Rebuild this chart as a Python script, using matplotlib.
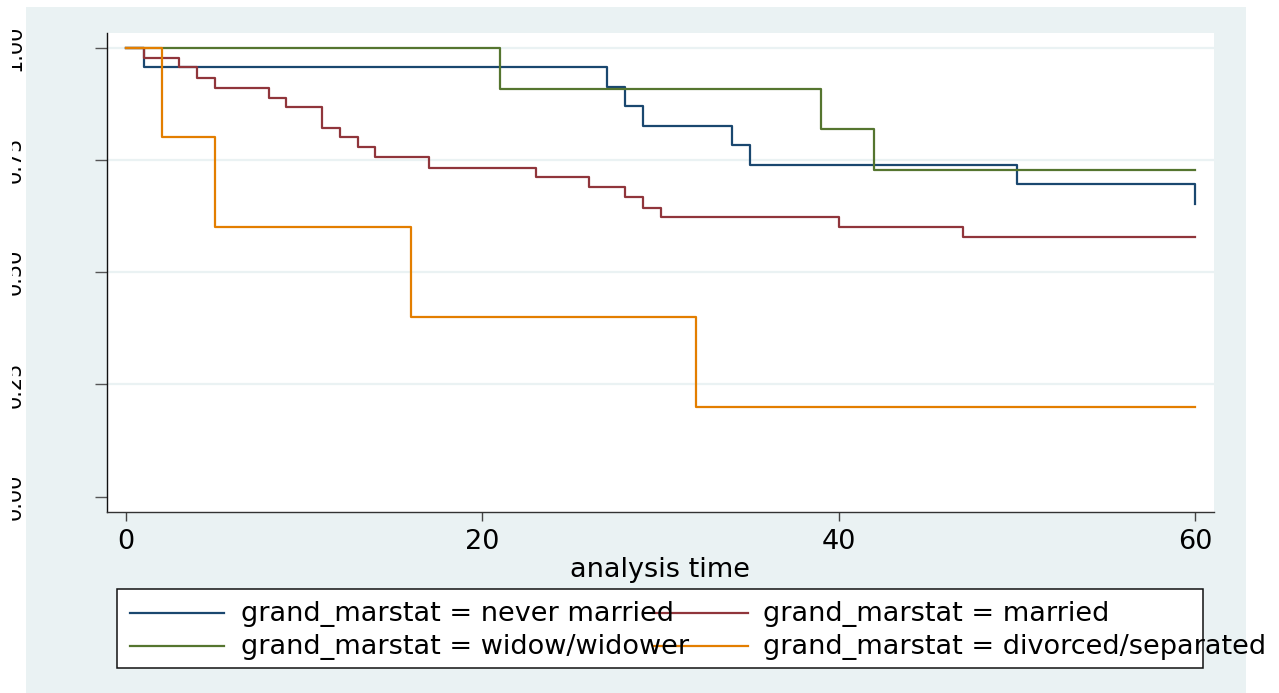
import matplotlib
matplotlib.use("Agg")
import matplotlib.pyplot as plt
from matplotlib.patches import Rectangle
from matplotlib.lines import Line2D

# ---------------- data ----------------
legend_var = "grand_marstat"
groups = ["never married", "married", "widow/widower", "divorced/separated"]

t_never = [0, 1, 27, 28, 29, 34, 35, 50, 60]
s_never = [1.000, 0.957, 0.913, 0.870, 0.826, 0.783, 0.739, 0.696, 0.652]

t_married = [0, 1, 3, 4, 5, 8, 9, 11, 12, 13, 14, 17, 23, 26, 28, 29, 30, 40, 47, 60]
s_married = [1.000, 0.978, 0.956, 0.933, 0.911, 0.889, 0.867, 0.822, 0.800, 0.778,
             0.756, 0.733, 0.711, 0.689, 0.667, 0.644, 0.622, 0.600, 0.578, 0.578]

t_widow = [0, 21, 39, 42, 60]
s_widow = [1.000, 0.909, 0.818, 0.727, 0.727]

t_divorced = [0, 2, 5, 16, 32, 60]
s_divorced = [1.0, 0.8, 0.6, 0.4, 0.2, 0.2]

x_ticks = [0, 20, 40, 60]
y_ticks = [0.00, 0.25, 0.50, 0.75, 1.00]
y_ticklabels = ["0.00", "0.25", "0.50", "0.75", "1.00"]
grid_levels = [0.25, 0.50, 0.75, 1.00]
x_title = "analysis time"

# ---------------- style ----------------
colors = ["#1A476F", "#90353B", "#55752F", "#E37E00"]
BG = "#EAF2F3"
W, H = 1279, 693
plt.rcParams["font.family"] = ["DejaVu Sans"]

def fx(x):
    return x / W

def fy(y):
    return 1 - y / H

fig = plt.figure(figsize=(W / 100, H / 100), dpi=100, facecolor="white")

# outer (graph region) background
fig.add_artist(Rectangle((fx(26), 0), fx(1246) - fx(26), fy(7), transform=fig.transFigure,
                         facecolor=BG, edgecolor="none", zorder=-5))

ax = fig.add_axes([fx(107), fy(512), fx(1214) - fx(107), (512 - 33) / H])
ax.set_facecolor("white")
ax.set_xlim(-1.066, 61.06)
ax.set_ylim(-0.034, 1.0327)

for g in grid_levels:
    ax.axhline(g, color=BG, lw=1.6, zorder=0.5)

series = [(t_never, s_never), (t_married, s_married), (t_widow, s_widow), (t_divorced, s_divorced)]
for (t, s), c, name in zip(series, colors, groups):
    ax.step(t, s, where="post", color=c, lw=1.6, zorder=2,
            label=f"{legend_var} = {name}")

for side in ("top", "right"):
    ax.spines[side].set_visible(False)
ax.spines["left"].set_color("#111111")
ax.spines["bottom"].set_color("#333333")
ax.spines["left"].set_linewidth(1.0)
ax.spines["bottom"].set_linewidth(1.0)

ax.set_xticks(x_ticks)
ax.set_xticklabels([str(v) for v in x_ticks], fontsize=19.5)
ax.tick_params(axis="x", length=6.5, width=1.0, color="#444444", pad=5.5)
ax.set_yticks(y_ticks, y_ticklabels, rotation=90, va="center", fontsize=15)
ax.tick_params(axis="y", length=8.6, width=1.0, color="#555555", pad=51)

ax.set_xlabel(x_title, fontsize=19.5)
ax.xaxis.set_label_coords(0.5, (512 - 577) / (512 - 33))
ax.xaxis.label.set_va("baseline")

# legend (Stata style: fixed column positions, text may overflow)
fig.add_artist(Rectangle((fx(117), fy(668)), fx(1203) - fx(117), fy(589) - fy(668),
                         transform=fig.transFigure, facecolor="white",
                         edgecolor="#111111", lw=1.1, zorder=3))
row_line_y = [612.5, 645.5]
row_text_y = [621, 653.5]
col_line_x = [(130, 224), (653, 748)]
col_text_x = [241, 763]
handles, labels = ax.get_legend_handles_labels()
for i, (h, lab) in enumerate(zip(handles, labels)):
    r, cidx = divmod(i, 2)
    x0, x1 = col_line_x[cidx]
    fig.add_artist(Line2D([fx(x0), fx(x1)], [fy(row_line_y[r])] * 2, transform=fig.transFigure,
                          color=h.get_color(), lw=1.6, zorder=4))
    fig.text(fx(col_text_x[cidx]), fy(row_text_y[r]), lab, fontsize=19.5,
             va="baseline", ha="left", zorder=5)

# the reference image is cropped at its left edge: the rotated y labels are cut off there
fig.add_artist(Rectangle((0, 0), fx(12), 1, transform=fig.transFigure,
                         facecolor="white", edgecolor="none", zorder=10))

fig.savefig("out.png", dpi=100, facecolor="white")
